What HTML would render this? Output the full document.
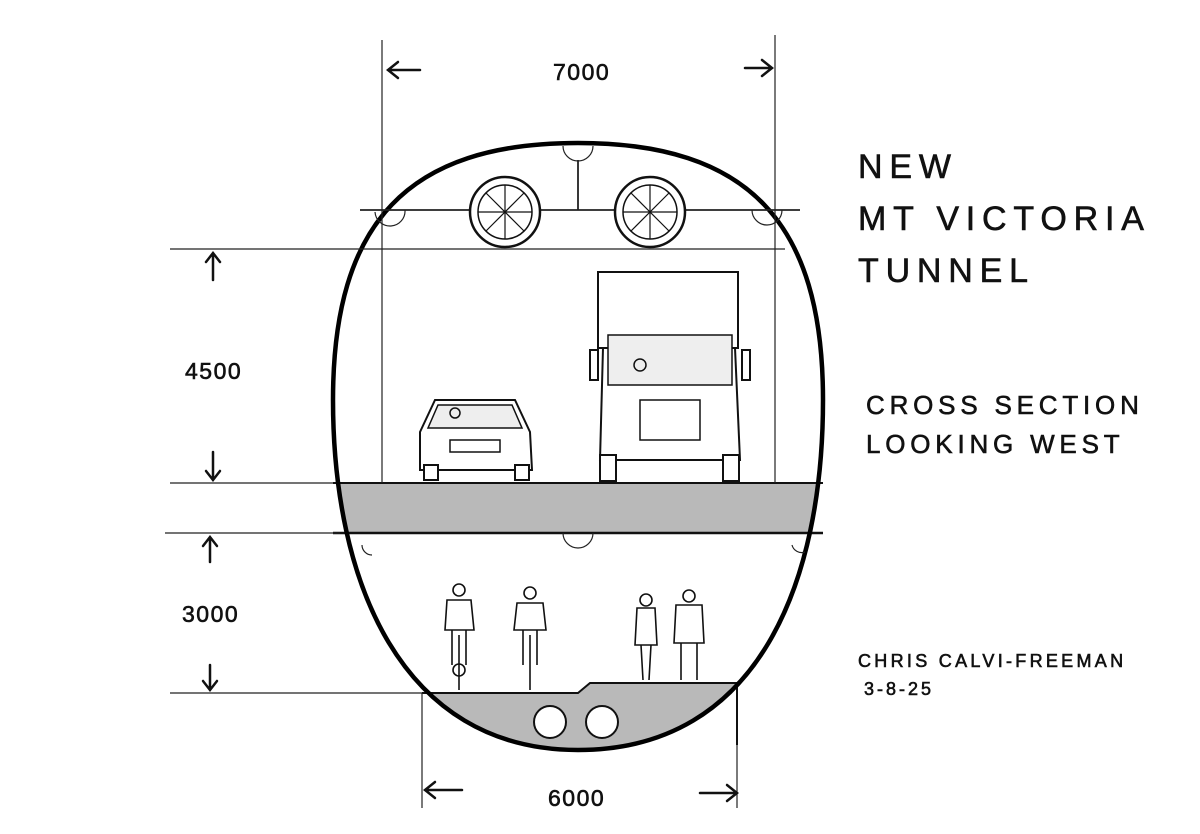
<!DOCTYPE html>
<html><head><meta charset="utf-8"><style>
html,body{margin:0;padding:0;background:#fff}
svg{display:block}
text{font-family:"Liberation Sans",sans-serif;fill:#111}
</style></head><body>
<svg width="1200" height="834" viewBox="0 0 1200 834" xmlns="http://www.w3.org/2000/svg">
<defs>
<clipPath id="tun"><path d="M578,143 C748,143 823,222 823,400 C823,580 760,750 578,750 C400,750 333,580 333,400 C333,222 408,143 578,143 Z"/></clipPath>
</defs>
<g clip-path="url(#tun)">
<rect x="320" y="483" width="520" height="50" fill="#b9b9b9"/>
<path d="M422,693 L578,693 L590,683 L737,683 L737,770 L422,770 Z" fill="#b9b9b9"/>
</g>
<line x1="333" y1="483" x2="823" y2="483" stroke="#111" stroke-width="2"/>
<line x1="333" y1="533" x2="823" y2="533" stroke="#111" stroke-width="2.5"/>
<path d="M422,693 L578,693 L590,683 L737,683 L737,745" fill="none" stroke="#111" stroke-width="2"/>
<circle cx="550" cy="722" r="16" fill="#fff" stroke="#111" stroke-width="2"/>
<circle cx="602" cy="722" r="16" fill="#fff" stroke="#111" stroke-width="2"/>
<path d="M578,143 C748,143 823,222 823,400 C823,580 760,750 578,750 C400,750 333,580 333,400 C333,222 408,143 578,143 Z" fill="none" stroke="#000" stroke-width="4.5"/>
<g stroke="#222" stroke-width="1.2" fill="none">
<line x1="382" y1="40" x2="382" y2="483"/>
<line x1="775" y1="35" x2="775" y2="483"/>
<line x1="170" y1="249" x2="785" y2="249"/>
<line x1="360" y1="210" x2="800" y2="210" stroke-width="1.8"/>
<line x1="578" y1="160" x2="578" y2="210" stroke-width="1.8"/>
<path d="M563,146 A15,15 0 0 0 593,146"/>
<line x1="170" y1="483" x2="333" y2="483"/>
<line x1="165" y1="533" x2="340" y2="533"/>
<line x1="170" y1="693" x2="422" y2="693"/>
<line x1="422" y1="693" x2="422" y2="808"/>
<line x1="737" y1="745" x2="737" y2="808"/>
<path d="M563,533 A15,15 0 0 0 593,533"/>
<path d="M405,210 A15,15 0 0 1 375,212"/>
<path d="M752,210 A15,15 0 0 0 782,210"/>
<path d="M362,545 A10,10 0 0 0 372,555"/>
<path d="M792,545 A10,10 0 0 0 805,552"/>
</g>
<g stroke="#111" fill="#fff" stroke-width="2.5">
<circle cx="505" cy="212" r="35"/><circle cx="505" cy="212" r="27" stroke-width="1.5"/>
<circle cx="650" cy="212" r="35"/><circle cx="650" cy="212" r="27" stroke-width="1.5"/>
</g>
<g stroke="#111" stroke-width="1.2">
<line x1="478" y1="212" x2="532" y2="212"/><line x1="505" y1="185" x2="505" y2="239"/><line x1="486" y1="193" x2="524" y2="231"/><line x1="524" y1="193" x2="486" y2="231"/>
<line x1="623" y1="212" x2="677" y2="212"/><line x1="650" y1="185" x2="650" y2="239"/><line x1="631" y1="193" x2="669" y2="231"/><line x1="669" y1="193" x2="631" y2="231"/>
</g>
<g stroke="#111" stroke-width="2.5" fill="none" stroke-linecap="round">
<path d="M388,70 H420 M398,62 L388,70 L398,78"/>
<path d="M745,68 H772 M762,60 L772,68 L762,76"/>
<path d="M213,253 V280 M206,262 L213,253 L220,262"/>
<path d="M213,452 V480 M206,471 L213,480 L220,471"/>
<path d="M210,537 V562 M203,546 L210,537 L217,546"/>
<path d="M210,665 V690 M203,681 L210,690 L217,681"/>
<path d="M425,790 H462 M435,782 L425,790 L435,798"/>
<path d="M700,793 H737 M727,785 L737,793 L727,801"/>
</g>
<g stroke="#111" stroke-width="2" fill="#fff">
<path d="M420,432 L435,400 L515,400 L530,432 L532,470 L420,470 Z"/>
<path d="M438,405 L512,405 L522,428 L428,428 Z" fill="#eee" stroke-width="1.5"/>
<rect x="424" y="465" width="14" height="15"/><rect x="515" y="465" width="14" height="15"/>
<rect x="450" y="440" width="50" height="12" stroke-width="1.5"/>
</g>
<circle cx="455" cy="413" r="5" fill="none" stroke="#111" stroke-width="1.5"/>
<g stroke="#111" stroke-width="2" fill="#fff">
<rect x="598" y="272" width="140" height="76"/>
<path d="M603,348 L735,348 L740,460 L600,460 Z"/>
<rect x="608" y="335" width="124" height="50" fill="#eee" stroke-width="1.5"/>
<rect x="600" y="455" width="16" height="26"/><rect x="723" y="455" width="16" height="26"/>
<rect x="590" y="350" width="8" height="30"/><rect x="742" y="350" width="8" height="30"/>
<rect x="640" y="400" width="60" height="40" stroke-width="1.5"/>
</g>
<circle cx="640" cy="365" r="6" fill="none" stroke="#111" stroke-width="1.5"/>
<g stroke="#111" stroke-width="1.6" fill="none">
<circle cx="459" cy="590" r="6"/><path d="M447,600 L471,600 L474,630 L445,630 Z M452,630 L452,665 M466,630 L466,665"/><circle cx="459" cy="670" r="6"/><line x1="459" y1="635" x2="459" y2="690"/>
<circle cx="530" cy="593" r="6"/><path d="M517,603 L543,603 L546,630 L514,630 Z M523,630 L523,665 M537,630 L537,665"/><line x1="530" y1="635" x2="530" y2="690"/>
<circle cx="646" cy="600" r="6"/><path d="M637,608 L655,608 L657,645 L635,645 Z M641,645 L643,680 M651,645 L649,680"/>
<circle cx="689" cy="596" r="6"/><path d="M676,605 L702,605 L704,643 L674,643 Z M681,643 L681,680 M697,643 L697,680"/>
</g>
<g stroke="#111" stroke-width="0.6">
<text x="553" y="80" font-size="23" letter-spacing="1.5">7000</text>
<text x="185" y="379" font-size="23" letter-spacing="1.5">4500</text>
<text x="182" y="622" font-size="23" letter-spacing="1.5">3000</text>
<text x="548" y="806" font-size="23" letter-spacing="1.5">6000</text>
<text x="858" y="178" font-size="34" letter-spacing="6.8">NEW</text>
<text x="858" y="230" font-size="34" letter-spacing="6.8">MT  VICTORIA</text>
<text x="858" y="282" font-size="34" letter-spacing="6.8">TUNNEL</text>
<text x="866" y="414" font-size="26" letter-spacing="4.8">CROSS SECTION</text>
<text x="866" y="453" font-size="26" letter-spacing="4.8">LOOKING WEST</text>
<text x="858" y="667" font-size="18" letter-spacing="3.3">CHRIS CALVI-FREEMAN</text>
<text x="864" y="695" font-size="18" letter-spacing="3">3-8-25</text>
</g>
</svg>
</body></html>
